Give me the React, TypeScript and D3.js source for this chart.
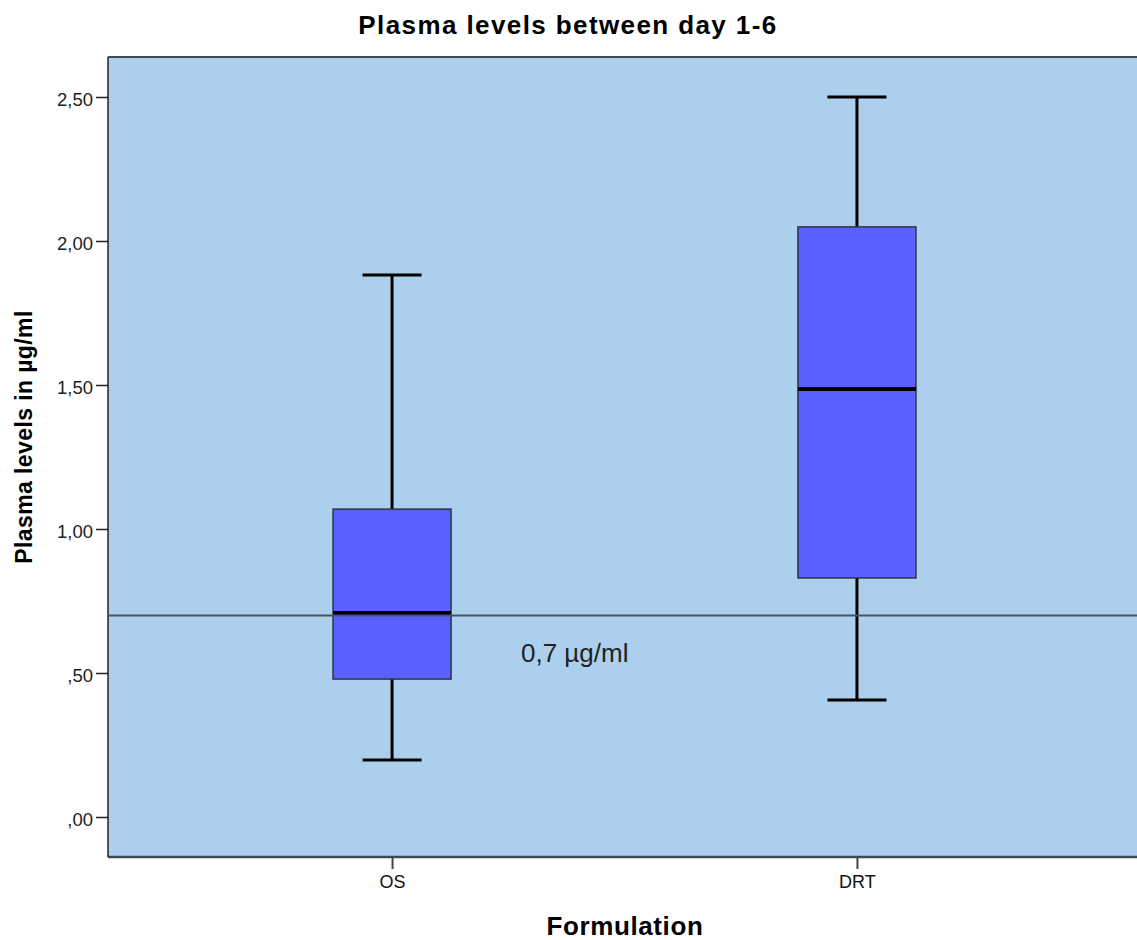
import React, { useRef, useEffect } from "react"
import * as d3 from "d3"

// box plot summary values
const groups = ["OS", "DRT"]
const whiskerLow = [0.198, 0.406]
const q1 = [0.479, 0.83]
const median = [0.708, 1.486]
const q3 = [1.069, 2.049]
const whiskerHigh = [1.882, 2.5]
const yTicks = [0, 0.5, 1, 1.5, 2, 2.5]
const refValue = 0.7
const refLabel = "0,7 µg/ml"

export default function App() {
  const svgRef = useRef<SVGSVGElement>(null)

  useEffect(() => {
    const width = 1137, height = 940
    const left = 108, top = 57, bottom = 857, right = 1141

    const svg = d3.select(svgRef.current)
    svg.selectAll("*").remove()

    const y = d3.scaleLinear().domain([0, 2.5]).range([817, 97])
    const x = d3.scalePoint().domain(groups).range([left, right]).padding(0.611)

    const font = "'Liberation Sans', Arial, sans-serif"

    // plot background
    svg.append("rect")
      .attr("x", left).attr("y", top)
      .attr("width", width - left).attr("height", bottom - top)
      .attr("fill", "#abcfed")

    // frame lines (top, left, bottom)
    svg.append("line").attr("x1", left).attr("x2", width).attr("y1", top).attr("y2", top)
      .attr("stroke", "#3c4a58").attr("stroke-width", 2)
    svg.append("line").attr("x1", left).attr("x2", width).attr("y1", bottom).attr("y2", bottom)
      .attr("stroke", "#3c4a58").attr("stroke-width", 2.5)
    svg.append("line").attr("x1", left).attr("x2", left).attr("y1", top).attr("y2", bottom)
      .attr("stroke", "#222").attr("stroke-width", 1.5)

    // y axis
    const yAxis = d3.axisLeft(y)
      .tickValues(yTicks)
      .tickSize(12)
      .tickPadding(3)
      .tickFormat(d => d3.format(".2f")(+d).replace(".", ",").replace(/^0,/, ","))
    const ga = svg.append("g").attr("transform", `translate(${left},0)`).call(yAxis)
    ga.select(".domain").remove()
    ga.selectAll(".tick line").attr("stroke", "#222").attr("stroke-width", 1.5)
    ga.selectAll(".tick text").attr("font-family", font).attr("font-size", 18.5)
      .attr("fill", "#222").attr("dy", "0.45em")

    // x axis
    const xAxis = d3.axisBottom(x).tickSize(12).tickPadding(6)
    const gx = svg.append("g").attr("transform", `translate(0,${bottom})`).call(xAxis)
    gx.select(".domain").remove()
    gx.selectAll(".tick line").attr("stroke", "#444").attr("stroke-width", 2)
    gx.selectAll(".tick text").attr("font-family", font).attr("font-size", 18).attr("fill", "#111")

    const boxW = 118
    const capW = 59

    const g = svg.append("g")
    groups.forEach((name, i) => {
      const cx = x(name)!
      // whisker stems
      g.append("line").attr("x1", cx).attr("x2", cx)
        .attr("y1", y(whiskerHigh[i])).attr("y2", y(q3[i]))
        .attr("stroke", "#000").attr("stroke-width", 3)
      g.append("line").attr("x1", cx).attr("x2", cx)
        .attr("y1", y(q1[i])).attr("y2", y(whiskerLow[i]))
        .attr("stroke", "#000").attr("stroke-width", 3)
      // caps
      ;[whiskerHigh[i], whiskerLow[i]].forEach(v => {
        g.append("line").attr("x1", cx - capW / 2).attr("x2", cx + capW / 2)
          .attr("y1", y(v)).attr("y2", y(v))
          .attr("stroke", "#000").attr("stroke-width", 3)
      })
      // box
      g.append("rect")
        .attr("x", cx - boxW / 2).attr("y", y(q3[i]))
        .attr("width", boxW).attr("height", y(q1[i]) - y(q3[i]))
        .attr("fill", "#5b61ff").attr("stroke", "#2c3440").attr("stroke-width", 1.5)
      // median
      g.append("line").attr("x1", cx - boxW / 2).attr("x2", cx + boxW / 2)
        .attr("y1", y(median[i])).attr("y2", y(median[i]))
        .attr("stroke", "#000").attr("stroke-width", 4)
    })

    // reference line
    svg.append("line").attr("x1", left).attr("x2", width)
      .attr("y1", y(refValue)).attr("y2", y(refValue))
      .attr("stroke", "#4a5561").attr("stroke-width", 2)
    svg.append("text").attr("x", 521).attr("y", y(refValue) + 47)
      .attr("font-family", font).attr("font-size", 26).attr("fill", "#222")
      .text(refLabel)

    // titles
    svg.append("text").attr("x", 568).attr("y", 34).attr("text-anchor", "middle")
      .attr("font-family", font).attr("font-size", 26).attr("font-weight", "bold")
      .attr("letter-spacing", 1.4)
      .text("Plasma levels between day 1-6")
    svg.append("text").attr("x", 625).attr("y", 935).attr("text-anchor", "middle")
      .attr("font-family", font).attr("font-size", 26).attr("font-weight", "bold")
      .attr("letter-spacing", 0.6)
      .text("Formulation")
    svg.append("text")
      .attr("transform", "translate(32,437) rotate(-90)")
      .attr("text-anchor", "middle")
      .attr("font-family", font).attr("font-size", 23).attr("font-weight", "bold")
      .attr("letter-spacing", 0.4)
      .text("Plasma levels in µg/ml")
  }, [])

  return (
    <svg ref={svgRef} width={1137} height={940}
      style={{ position: "absolute", top: 0, left: 0, background: "#fff" }} />
  )
}
